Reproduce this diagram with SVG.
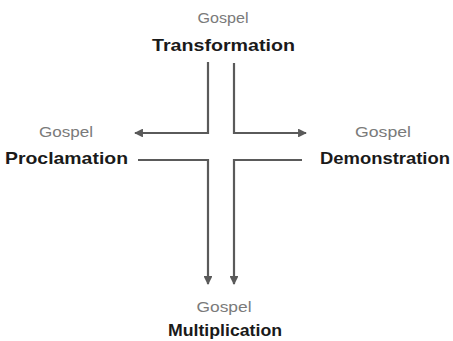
<svg xmlns="http://www.w3.org/2000/svg" width="453" height="341" viewBox="0 0 453 341">
<style>
.sub{font-family:"Liberation Sans",Arial,sans-serif;font-size:14px;fill:#7a7a7a;text-anchor:middle}
.main{font-family:"Liberation Sans",Arial,sans-serif;font-size:17px;font-weight:bold;fill:#1a1a1a;text-anchor:middle}
.ln{fill:none;stroke:#5a5a5a;stroke-width:2.2}
</style>
<defs>
<marker id="ah" viewBox="0 0 10 10" refX="9" refY="5" markerWidth="4" markerHeight="4" orient="auto">
<path d="M0,0 L10,5 L0,10 z" fill="#5a5a5a"/>
</marker>
</defs>
<rect width="453" height="341" fill="#ffffff"/>
<g id="transformation">
<text class="sub" x="223" y="23" textLength="51" lengthAdjust="spacingAndGlyphs">Gospel</text>
<text class="main" x="223.5" y="51" textLength="143" lengthAdjust="spacingAndGlyphs">Transformation</text>
</g>
<g id="proclamation">
<text class="sub" x="66" y="137" textLength="54" lengthAdjust="spacingAndGlyphs">Gospel</text>
<text class="main" x="66.5" y="164" textLength="123" lengthAdjust="spacingAndGlyphs">Proclamation</text>
</g>
<g id="demonstration">
<text class="sub" x="383" y="137" textLength="56" lengthAdjust="spacingAndGlyphs">Gospel</text>
<text class="main" x="385" y="164" textLength="130" lengthAdjust="spacingAndGlyphs">Demonstration</text>
</g>
<g id="multiplication">
<text class="sub" x="224" y="312" textLength="55" lengthAdjust="spacingAndGlyphs">Gospel</text>
<text class="main" x="225" y="336" textLength="114" lengthAdjust="spacingAndGlyphs">Multiplication</text>
</g>
<g id="connectors">
<path class="ln" d="M208,62 V133 H135" marker-end="url(#ah)"/>
<path class="ln" d="M234,63 V133 H306" marker-end="url(#ah)"/>
<path class="ln" d="M138,160 H208 V284" marker-end="url(#ah)"/>
<path class="ln" d="M302,160 H234 V284" marker-end="url(#ah)"/>
</g>
</svg>
